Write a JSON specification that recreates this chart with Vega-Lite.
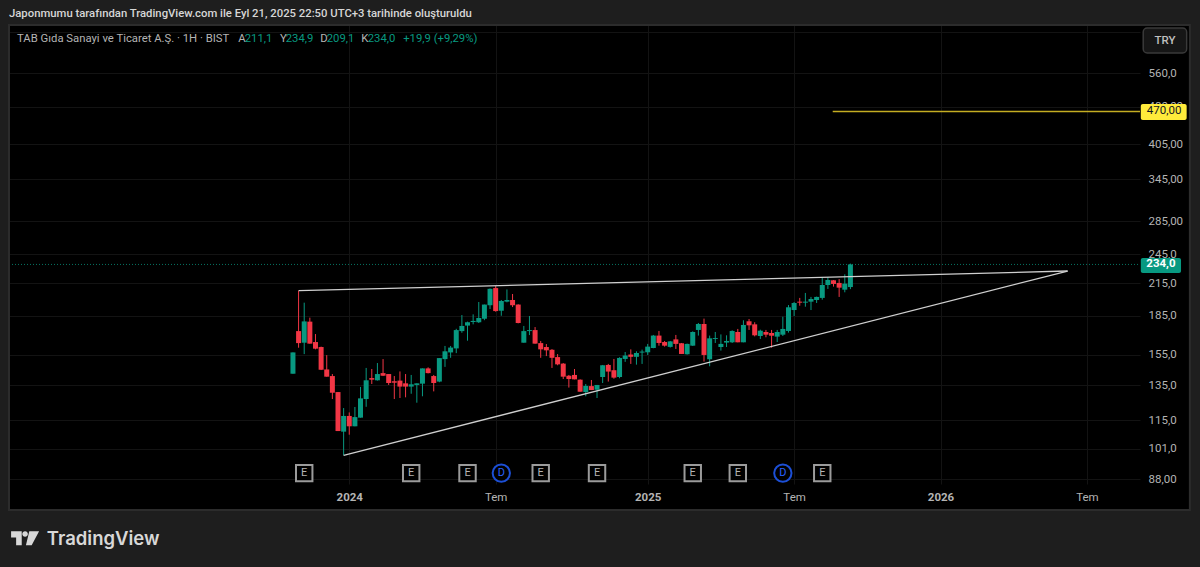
{
  "$schema": "https://vega.github.io/schema/vega-lite/v6.json",
  "width": 1131,
  "height": 459,
  "autosize": "none",
  "padding": {"left": 9, "top": 25, "right": 60, "bottom": 83},
  "background": "#000000",
  "view": {"stroke": null},
  "datasets": {
    "candles": [
      {"date":"2023-10-23","open":142.2,"high":156.7,"low":142.2,"close":156.7},
      {"date":"2023-10-30","open":172.7,"high":207.6,"low":160.1,"close":163.5},
      {"date":"2023-11-06","open":163.8,"high":196.6,"low":155.5,"close":180.5},
      {"date":"2023-11-13","open":180.3,"high":183.6,"low":163.1,"close":163.1},
      {"date":"2023-11-20","open":164.3,"high":170.4,"low":158.9,"close":159.4},
      {"date":"2023-11-27","open":160.6,"high":160.9,"low":144.6,"close":144.8},
      {"date":"2023-12-04","open":145.0,"high":154.8,"low":140.3,"close":140.3},
      {"date":"2023-12-11","open":140.7,"high":142.0,"low":126.7,"close":130.4},
      {"date":"2023-12-18","open":130.8,"high":130.8,"low":109.5,"close":109.5},
      {"date":"2023-12-25","open":109.2,"high":121.6,"low":98.0,"close":117.3},
      {"date":"2024-01-01","open":117.3,"high":119.2,"low":107.7,"close":111.9},
      {"date":"2024-01-08","open":111.9,"high":122.2,"low":111.9,"close":116.7},
      {"date":"2024-01-15","open":116.4,"high":133.9,"low":116.4,"close":127.1},
      {"date":"2024-01-22","open":126.7,"high":146.0,"low":122.3,"close":138.0},
      {"date":"2024-01-29","open":139.4,"high":145.3,"low":135.7,"close":138.4},
      {"date":"2024-02-05","open":138.0,"high":149.3,"low":137.8,"close":142.0},
      {"date":"2024-02-12","open":142.6,"high":152.0,"low":140.7,"close":140.9},
      {"date":"2024-02-19","open":142.0,"high":142.0,"low":135.1,"close":136.3},
      {"date":"2024-02-26","open":137.4,"high":140.7,"low":126.7,"close":136.5},
      {"date":"2024-03-04","open":137.8,"high":143.7,"low":127.3,"close":134.1},
      {"date":"2024-03-11","open":136.1,"high":142.0,"low":127.7,"close":134.1},
      {"date":"2024-03-18","open":134.1,"high":141.4,"low":129.8,"close":135.5},
      {"date":"2024-03-25","open":135.1,"high":136.1,"low":124.6,"close":136.1},
      {"date":"2024-04-01","open":135.9,"high":145.7,"low":128.3,"close":145.7},
      {"date":"2024-04-08","open":145.7,"high":146.4,"low":142.4,"close":142.6},
      {"date":"2024-04-15","open":140.7,"high":141.4,"low":131.2,"close":136.3},
      {"date":"2024-04-22","open":137.2,"high":152.7,"low":136.8,"close":152.7},
      {"date":"2024-04-29","open":152.0,"high":161.4,"low":146.7,"close":157.5},
      {"date":"2024-05-06","open":156.7,"high":161.4,"low":152.9,"close":160.2},
      {"date":"2024-05-13","open":159.6,"high":174.5,"low":156.2,"close":173.5},
      {"date":"2024-05-20","open":172.7,"high":185.8,"low":171.4,"close":176.8},
      {"date":"2024-05-27","open":177.1,"high":180.3,"low":165.3,"close":179.8},
      {"date":"2024-06-03","open":180.0,"high":186.4,"low":178.1,"close":180.9},
      {"date":"2024-06-10","open":179.8,"high":197.2,"low":179.2,"close":183.3},
      {"date":"2024-06-17","open":182.7,"high":194.9,"low":181.5,"close":194.9},
      {"date":"2024-06-24","open":194.3,"high":209.8,"low":191.0,"close":209.4},
      {"date":"2024-07-01","open":210.1,"high":212.1,"low":188.7,"close":189.2},
      {"date":"2024-07-08","open":189.5,"high":199.0,"low":185.2,"close":198.1},
      {"date":"2024-07-15","open":197.5,"high":208.8,"low":196.9,"close":199.0},
      {"date":"2024-07-22","open":199.0,"high":204.5,"low":192.7,"close":194.3},
      {"date":"2024-07-29","open":194.9,"high":195.1,"low":178.9,"close":179.2},
      {"date":"2024-08-05","open":163.8,"high":176.8,"low":163.8,"close":172.7},
      {"date":"2024-08-12","open":172.7,"high":185.0,"low":169.6,"close":173.5},
      {"date":"2024-08-19","open":173.5,"high":175.9,"low":163.1,"close":163.1},
      {"date":"2024-08-26","open":163.5,"high":165.1,"low":152.9,"close":158.9},
      {"date":"2024-09-02","open":160.6,"high":162.8,"low":154.1,"close":158.2},
      {"date":"2024-09-09","open":158.6,"high":159.1,"low":146.0,"close":152.9},
      {"date":"2024-09-16","open":153.4,"high":155.5,"low":147.8,"close":148.4},
      {"date":"2024-09-23","open":148.9,"high":149.3,"low":138.8,"close":140.3},
      {"date":"2024-09-30","open":140.9,"high":141.4,"low":133.5,"close":138.8},
      {"date":"2024-10-07","open":141.4,"high":145.3,"low":138.6,"close":138.6},
      {"date":"2024-10-14","open":138.4,"high":138.6,"low":131.0,"close":131.0},
      {"date":"2024-10-21","open":130.8,"high":135.7,"low":128.3,"close":134.5},
      {"date":"2024-10-28","open":134.4,"high":138.2,"low":132.0,"close":132.0},
      {"date":"2024-11-04","open":132.2,"high":135.1,"low":127.3,"close":135.1},
      {"date":"2024-11-11","open":140.1,"high":148.0,"low":136.3,"close":147.8},
      {"date":"2024-11-18","open":148.0,"high":148.7,"low":137.2,"close":143.6},
      {"date":"2024-11-25","open":144.5,"high":152.1,"low":139.0,"close":139.7},
      {"date":"2024-12-02","open":140.1,"high":153.3,"low":139.3,"close":152.8},
      {"date":"2024-12-09","open":152.1,"high":157.0,"low":150.1,"close":154.5},
      {"date":"2024-12-16","open":155.2,"high":158.9,"low":148.7,"close":153.6},
      {"date":"2024-12-23","open":153.6,"high":157.5,"low":148.2,"close":156.3},
      {"date":"2024-12-30","open":156.6,"high":158.7,"low":148.7,"close":157.3},
      {"date":"2025-01-06","open":156.8,"high":162.9,"low":154.9,"close":160.9},
      {"date":"2025-01-13","open":159.9,"high":169.7,"low":159.7,"close":169.2},
      {"date":"2025-01-20","open":169.2,"high":172.8,"low":161.6,"close":163.6},
      {"date":"2025-01-27","open":164.3,"high":165.1,"low":160.9,"close":161.6},
      {"date":"2025-02-03","open":160.7,"high":165.1,"low":160.2,"close":164.8},
      {"date":"2025-02-10","open":166.3,"high":169.7,"low":159.2,"close":162.9},
      {"date":"2025-02-17","open":163.4,"high":163.6,"low":155.6,"close":155.6},
      {"date":"2025-02-24","open":155.4,"high":163.1,"low":155.2,"close":162.9},
      {"date":"2025-03-03","open":161.6,"high":172.5,"low":161.4,"close":172.0},
      {"date":"2025-03-10","open":173.6,"high":179.2,"low":169.2,"close":178.4},
      {"date":"2025-03-17","open":178.4,"high":182.8,"low":150.3,"close":154.9},
      {"date":"2025-03-24","open":151.9,"high":169.2,"low":147.1,"close":167.1},
      {"date":"2025-03-31","open":166.6,"high":172.0,"low":163.6,"close":167.3},
      {"date":"2025-04-07","open":160.6,"high":170.1,"low":158.0,"close":162.9},
      {"date":"2025-04-14","open":163.9,"high":169.4,"low":160.6,"close":165.1},
      {"date":"2025-04-21","open":164.1,"high":173.3,"low":163.6,"close":172.8},
      {"date":"2025-04-28","open":172.0,"high":174.4,"low":164.1,"close":164.1},
      {"date":"2025-05-05","open":164.1,"high":181.4,"low":164.1,"close":177.6},
      {"date":"2025-05-12","open":180.6,"high":182.5,"low":173.6,"close":177.3},
      {"date":"2025-05-19","open":178.1,"high":179.8,"low":168.6,"close":169.4},
      {"date":"2025-05-26","open":168.9,"high":173.8,"low":166.6,"close":173.0},
      {"date":"2025-06-02","open":172.0,"high":173.6,"low":167.9,"close":169.9},
      {"date":"2025-06-09","open":171.2,"high":173.6,"low":160.1,"close":169.1},
      {"date":"2025-06-16","open":168.4,"high":173.6,"low":164.3,"close":172.0},
      {"date":"2025-06-23","open":169.9,"high":184.4,"low":168.9,"close":174.4},
      {"date":"2025-06-30","open":172.8,"high":194.5,"low":171.5,"close":192.5},
      {"date":"2025-07-07","open":190.1,"high":197.2,"low":185.0,"close":196.3},
      {"date":"2025-07-14","open":197.5,"high":200.9,"low":193.9,"close":196.6},
      {"date":"2025-07-21","open":196.6,"high":205.5,"low":193.0,"close":197.5},
      {"date":"2025-07-28","open":197.5,"high":201.8,"low":190.1,"close":199.9},
      {"date":"2025-08-04","open":199.0,"high":202.1,"low":196.3,"close":201.8},
      {"date":"2025-08-11","open":200.9,"high":221.0,"low":199.3,"close":213.1},
      {"date":"2025-08-18","open":213.1,"high":221.0,"low":209.3,"close":218.0},
      {"date":"2025-08-25","open":217.7,"high":218.0,"low":211.5,"close":214.1},
      {"date":"2025-09-01","open":215.1,"high":218.9,"low":201.8,"close":210.5},
      {"date":"2025-09-08","open":208.6,"high":223.7,"low":206.1,"close":214.4},
      {"date":"2025-09-15","open":211.1,"high":234.9,"low":209.1,"close":234.0}
    ],
    "trendlines": [
      {"line":"top","date":"2023-10-30","price":207.6},
      {"line":"top","date":"2026-06-12","price":227.1},
      {"line":"bottom","date":"2023-12-25","price":98.0},
      {"line":"bottom","date":"2026-06-12","price":227.1}
    ],
    "strips": [
      {"date":"2022-10-01","date2":"2022-11-04","price":40,"price2":1000},
      {"date":"2026-11-11","date2":"2027-01-01","price":40,"price2":1000},
      {"date":"2022-10-01","date2":"2027-01-01","price":697,"price2":1000},
      {"date":"2022-10-01","date2":"2027-01-01","price":40,"price2":76.4}
    ],
    "events": [
      {"date":"2023-11-06","price":90.4,"label":"E"},
      {"date":"2024-03-18","price":90.4,"label":"E"},
      {"date":"2024-05-27","price":90.4,"label":"E"},
      {"date":"2024-08-26","price":90.4,"label":"E"},
      {"date":"2024-11-04","price":90.4,"label":"E"},
      {"date":"2025-03-03","price":90.4,"label":"E"},
      {"date":"2025-04-28","price":90.4,"label":"E"},
      {"date":"2025-08-11","price":90.4,"label":"E"}
    ],
    "dividends": [
      {"date":"2024-07-08","price":90.4,"label":"D"},
      {"date":"2025-06-23","price":90.4,"label":"D"}
    ]
  },
  "encoding": {
    "x": {
      "field": "date",
      "type": "temporal",
      "title": null,
      "scale": {
        "type": "utc",
        "nice": false,
        "padding": 0,
        "domain": [
          {"year": 2022, "month": 11, "date": 4, "utc": true},
          {"year": 2026, "month": 9, "date": 10, "utc": true}
        ]
      },
      "axis": {
        "values": [1704067200000, 1719792000000, 1736121600000, 1751846400000, 1767571200000, 1783296000000],
        "labelExpr": "utcmonth(datum.value)==6?'Tem':''+utcyear(datum.value+864000000)",
        "labelFontWeight": {"condition": {"test": "utcmonth(datum.value)!=6", "value": "bold"}, "value": "normal"},
        "labelFont": "Roboto",
        "labelFontSize": 11.5,
        "labelColor": "#b4b4b4",
        "labelPadding": 7,
        "labelFlush": false,
        "labelOverlap": false,
        "ticks": false,
        "domain": false,
        "grid": true,
        "gridColor": "#131313"
      }
    },
    "y": {
      "field": "price",
      "type": "quantitative",
      "title": null,
      "scale": {"type": "log", "domain": [86.02, 697], "nice": false},
      "axis": {
        "orient": "right",
        "values": [88, 101, 115, 135, 155, 185, 215, 245, 285, 345, 405, 480, 560, 675],
        "labelExpr": "datum.value==675?'':replace(format(datum.value,(datum.value==88||(datum.value>=285&&datum.value<=480))?'.2f':'.1f'),'.',',')",
        "labelFont": "Roboto",
        "labelFontSize": 11.5,
        "labelColor": "#b4b4b4",
        "labelPadding": 8,
        "labelFlush": false,
        "labelOverlap": false,
        "labelBound": false,
        "ticks": false,
        "domain": false,
        "grid": true,
        "gridColor": "#131313"
      }
    }
  },
  "layer": [
    {
      "data": {"values": [{"date": "2022-11-04", "date2": "2026-09-10", "price": 234}]},
      "mark": {"type": "rule", "color": "#089981", "strokeDash": [1, 2], "strokeWidth": 1, "opacity": 0.75},
      "encoding": {"x2": {"field": "date2"}}
    },
    {
      "data": {"name": "candles"},
      "mark": {"type": "rule", "strokeWidth": 1},
      "encoding": {
        "y": {"field": "low", "type": "quantitative", "title": null},
        "y2": {"field": "high"},
        "color": {"condition": {"test": "datum.open<datum.close", "value": "#089981"}, "value": "#f23645"}
      }
    },
    {
      "data": {"name": "candles"},
      "mark": {"type": "bar", "size": 5},
      "encoding": {
        "y": {"field": "open", "type": "quantitative", "title": null},
        "y2": {"field": "close"},
        "color": {"condition": {"test": "datum.open<datum.close", "value": "#089981"}, "value": "#f23645"}
      }
    },
    {
      "data": {"name": "trendlines"},
      "mark": {"type": "line", "color": "#cfcfcf", "strokeWidth": 1.3},
      "encoding": {"detail": {"field": "line"}}
    },
    {
      "data": {"values": [{"date": "2025-08-24", "date2": "2026-09-10", "price": 470}]},
      "mark": {"type": "rule", "color": "#c4ad22", "strokeWidth": 1.6},
      "encoding": {"x2": {"field": "date2"}}
    },
    {
      "data": {"name": "events"},
      "mark": {"type": "point", "shape": "square", "size": 270, "filled": true, "fill": "#000000", "stroke": "#9b9b9b", "strokeWidth": 2, "opacity": 1}
    },
    {
      "data": {"name": "events"},
      "mark": {"type": "text", "color": "#b4b4b4", "font": "Roboto", "fontSize": 11},
      "encoding": {"text": {"field": "label"}}
    },
    {
      "data": {"name": "dividends"},
      "mark": {"type": "point", "shape": "circle", "size": 300, "filled": true, "fill": "#000000", "stroke": "#1c4fd6", "strokeWidth": 2, "opacity": 1}
    },
    {
      "data": {"name": "dividends"},
      "mark": {"type": "text", "color": "#2962ff", "font": "Roboto", "fontSize": 11},
      "encoding": {"text": {"field": "label"}}
    },
    {
      "data": {"name": "strips"},
      "mark": {"type": "rect", "color": "#1e1e1e"},
      "encoding": {"x2": {"field": "date2"}, "y2": {"field": "price2"}}
    },
    {
      "data": {"values": [{"date": "2022-11-04", "date2": "2026-11-11", "price": 76.4, "price2": 697}]},
      "mark": {"type": "rect", "fillOpacity": 0, "stroke": "#2c2c2c", "strokeWidth": 2},
      "encoding": {"x2": {"field": "date2"}, "y2": {"field": "price2"}}
    },
    {
      "data": {"values": [{"date": "2026-09-11", "date2": "2026-11-07", "price": 452, "price2": 486.2}]},
      "mark": {"type": "rect", "color": "#ffeb3b", "cornerRadius": 2},
      "encoding": {"x2": {"field": "date2"}, "y2": {"field": "price2"}}
    },
    {
      "data": {"values": [{"date": "2026-09-11", "date2": "2026-10-31", "price": 225, "price2": 241}]},
      "mark": {"type": "rect", "color": "#089981", "cornerRadius": 2},
      "encoding": {"x2": {"field": "date2"}, "y2": {"field": "price2"}}
    },
    {
      "data": {"values": [{"date": "2026-09-14", "date2": "2026-11-07", "price": 613.5, "price2": 687.5}]},
      "mark": {"type": "rect", "fill": "#161616", "stroke": "#3a3a3a", "strokeWidth": 1.5, "cornerRadius": 4},
      "encoding": {"x2": {"field": "date2"}, "y2": {"field": "price2"}}
    },
    {
      "data": {"values": [{"date": "2026-10-10", "price": 470, "label": "470,00"}]},
      "mark": {"type": "text", "color": "#131722", "font": "Roboto", "fontSize": 11.5},
      "encoding": {"text": {"field": "label"}}
    },
    {
      "data": {"values": [{"date": "2026-10-06", "price": 234, "label": "234,0"}]},
      "mark": {"type": "text", "color": "#ffffff", "font": "Roboto", "fontSize": 11.5, "fontWeight": "bold"},
      "encoding": {"text": {"field": "label"}}
    },
    {
      "data": {"values": [{"date": "2026-10-11", "price": 649, "label": "TRY"}]},
      "mark": {"type": "text", "color": "#c0c0c0", "font": "Roboto", "fontSize": 11.5, "fontWeight": 500},
      "encoding": {"text": {"field": "label"}}
    },
    {
      "data": {"values": [{"date": "2022-11-04", "price": 732.6, "label": "Japonmumu tarafından TradingView.com ile Eyl 21, 2025 22:50 UTC+3 tarihinde oluşturuldu"}]},
      "mark": {"type": "text", "align": "left", "color": "#d6d6d6", "font": "Roboto", "fontSize": 11.3, "fontWeight": 500},
      "encoding": {"text": {"field": "label"}}
    },
    {
      "data": {
        "values": [
          {"date": "2022-11-14", "price": 653.9, "label": "TAB Gıda Sanayi ve Ticaret A.Ş. · 1H · BIST"},
          {"date": "2023-08-16", "price": 653.9, "label": "A"},
          {"date": "2023-10-07", "price": 653.9, "label": "Y"},
          {"date": "2023-11-26", "price": 653.9, "label": "D"},
          {"date": "2024-01-16", "price": 653.9, "label": "K"}
        ]
      },
      "mark": {"type": "text", "align": "left", "color": "#b4b4b4", "font": "Roboto", "fontSize": 11.3},
      "encoding": {"text": {"field": "label"}}
    },
    {
      "data": {
        "values": [
          {"date": "2023-08-24", "price": 653.9, "label": "211,1"},
          {"date": "2023-10-14", "price": 653.9, "label": "234,9"},
          {"date": "2023-12-04", "price": 653.9, "label": "209,1"},
          {"date": "2024-01-24", "price": 653.9, "label": "234,0"},
          {"date": "2024-03-08", "price": 653.9, "label": "+19,9 (+9,29%)"}
        ]
      },
      "mark": {"type": "text", "align": "left", "color": "#089981", "font": "Roboto", "fontSize": 11.3},
      "encoding": {"text": {"field": "label"}}
    },
    {
      "data": {"values": [{"date": "2022-11-24", "price": 67.2}]},
      "mark": {
        "type": "point",
        "filled": true,
        "opacity": 1,
        "color": "#d8d8d8",
        "size": 784,
        "shape": "M-1 -0.5 L-0.24 -0.5 L-0.24 0.5 L-0.64 0.5 L-0.64 -0.05 L-1 -0.05 Z M-0.2 -0.3 A0.2 0.2 0 1 1 0.2 -0.3 A0.2 0.2 0 1 1 -0.2 -0.3 Z M0.3 -0.5 L1 -0.5 L0.47 0.5 L0.06 0.5 Z"
      }
    },
    {
      "data": {"values": [{"date": "2022-12-21", "price": 67.0, "label": "TradingView"}]},
      "mark": {"type": "text", "align": "left", "color": "#d8d8d8", "font": "Inter", "fontSize": 18.5, "fontWeight": 600},
      "encoding": {"text": {"field": "label"}}
    }
  ]
}
